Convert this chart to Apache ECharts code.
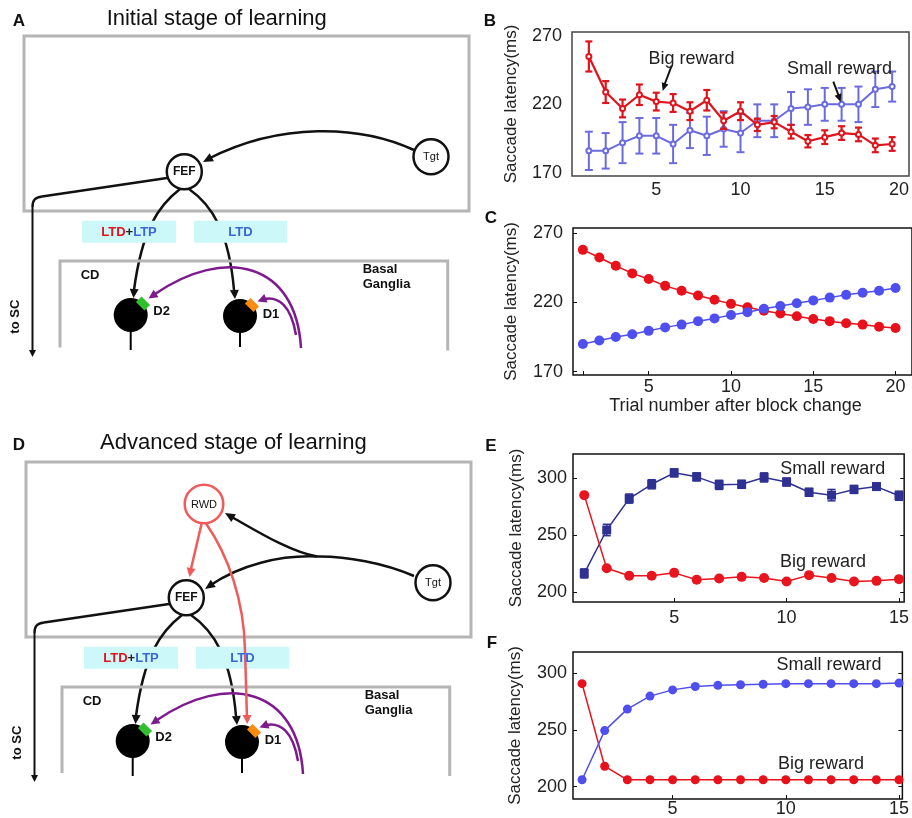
<!DOCTYPE html>
<html><head><meta charset="utf-8">
<script src="https://cdn.jsdelivr.net/npm/echarts@6/dist/echarts.min.js"></script>
<style>html,body{margin:0;padding:0;background:#fff}#c{width:912px;height:818px}</style>
</head><body><div id="c"></div>
<script>
// ---------------- data ----------------
const trialsB = [1,2,3,4,5,6,7,8,9,10,11,12,13,14,15,16,17,18,19];
const bigB = [255,229,217,227,222,221,215,223,208,215,205,207,200,193,196,199,198,190,191];
const bigBErr = [11,8,6.5,7.5,6.5,6.5,6.5,7.5,6,6.5,4.5,4.5,5,4.5,5,5,5,5,5];
const smallB = [186,186,192,197,197,191,201,197,202,199,208,208,217,218,220,220,220,231,233];
const smallBErr = [14,13,15,13,13,14,13,14,13,14,12,12,12,13,12,12,13,13,11];

const trialsC = [1,2,3,4,5,6,7,8,9,10,11,12,13,14,15,16,17,18,19,20];
const bigC = [258,252.5,246.5,241,237,232,228.5,225,222,219,216.5,214,212,210,208,206.5,205,204,202.5,201.5];
const smallC = [190,192.5,195,197,199.5,202,204,206.5,208.5,211,213,215.5,217.5,219.5,221.5,223.5,225.5,227,228.5,230.5];

const trialsE = [1,2,3,4,5,6,7,8,9,10,11,12,13,14,15];
const smallE = [216.5,254.5,282,294.5,304.5,301,294,294.5,300.5,296.5,287.5,285,290,292.5,284.5];
const smallEErr = [4,5,4,4,3.5,3.5,4,3.5,4,3.5,3.5,5,3.5,3,4];
const bigE = [285,221,214.5,214.5,217,211,212,213.5,212.5,209.5,215,212.5,209.5,210,211.5];
const bigEErr = [2,2,2,2,3,2,2,2,2,2,2,2,2,2,2];

const trialsF = [1,2,3,4,5,6,7,8,9,10,11,12,13,14,15];
const smallF = [206,249.5,268.5,280,285.5,288.5,289.5,290,290.5,291,291,291,291,291,291.5];
const bigF = [291,218,206,206,206,206,206,206,206,206,206,206,206,206,206];

const yTicksBC = [170,220,270];
const yTicksEF = [200,250,300];
const xTicks20 = [5,10,15,20];
const xTicks15 = [5,10,15];
const yName = 'Saccade latency(ms)';
const xNameC = 'Trial number after block change';

// ---------------- helpers ----------------
const FF = '"Liberation Sans", Arial, sans-serif';
const zip = (xs, ys) => xs.map((x, i) => [x, ys[i]]);
const zip3 = (xs, ys, es) => xs.map((x, i) => [x, ys[i], es[i]]);

function errRender(color, cap, lw) {
  return function (params, api) {
    const x = api.value(0), y = api.value(1), e = api.value(2);
    const t = api.coord([x, y + e]), b = api.coord([x, y - e]);
    const st = { stroke: color, lineWidth: lw };
    return { type: 'group', children: [
      { type: 'line', shape: { x1: t[0], y1: t[1], x2: b[0], y2: b[1] }, style: st },
      { type: 'line', shape: { x1: t[0] - cap, y1: t[1], x2: t[0] + cap, y2: t[1] }, style: st },
      { type: 'line', shape: { x1: b[0] - cap, y1: b[1], x2: b[0] + cap, y2: b[1] }, style: st }
    ]};
  };
}

function yAx(gi, min, max, ticks, margin, gap, tickShow) {
  return { type: 'value', gridIndex: gi, min: min, max: max,
    name: yName, nameLocation: 'middle', nameGap: gap, nameRotate: 90,
    nameTextStyle: { fontSize: 17, color: '#222', fontFamily: FF },
    axisLine: { show: false }, splitLine: { show: false },
    axisTick: { show: tickShow, inside: true, length: 4, customValues: ticks, lineStyle: { color: '#111' } },
    axisLabel: { customValues: ticks, fontSize: 18, color: '#222', margin: margin, fontFamily: FF } };
}
function yRight(gi, min, max, ticks) {
  return { type: 'value', gridIndex: gi, min: min, max: max, position: 'right',
    axisLine: { show: false }, splitLine: { show: false }, axisLabel: { show: false },
    axisTick: { show: true, inside: true, length: 4, customValues: ticks, lineStyle: { color: '#111' } } };
}
function xAx(gi, min, max, ticks, margin, tickShow, tickVals, extra) {
  return Object.assign({ type: 'value', gridIndex: gi, min: min, max: max,
    axisLine: { show: false }, splitLine: { show: false },
    axisTick: { show: tickShow, inside: true, length: 4, customValues: tickVals || ticks, lineStyle: { color: '#111' } },
    axisLabel: { customValues: ticks, fontSize: 18, color: '#222', margin: margin, fontFamily: FF } }, extra || {});
}

// ---------------- diagram graphics ----------------
const G = [];
const BLK = '#111', GRAY = '#b5b5b5', PURP = '#7d1a8e', RWDRED = '#f05a5a', CYAN = '#cdf8fa';
function ln(x1, y1, x2, y2, c, w, z) { G.push({ type: 'line', z: z || 1, shape: { x1, y1, x2, y2 }, style: { stroke: c, lineWidth: w } }); }
function bz(p0, c1, c2, p1, c, w, z) { G.push({ type: 'bezierCurve', z: z || 1, shape: { x1: p0[0], y1: p0[1], cpx1: c1[0], cpy1: c1[1], cpx2: c2[0], cpy2: c2[1], x2: p1[0], y2: p1[1] }, style: { stroke: c, lineWidth: w, fill: 'none' } }); }
function hd(tip, from, c, L, W, z) {
  const a = Math.atan2(tip[1] - from[1], tip[0] - from[0]);
  const bx = tip[0] - L * Math.cos(a), by = tip[1] - L * Math.sin(a);
  const px = -Math.sin(a) * W, py = Math.cos(a) * W;
  G.push({ type: 'polygon', z: z || 5, shape: { points: [[tip[0], tip[1]], [bx + px, by + py], [bx - px, by - py]] }, style: { fill: c } });
}
function ci(cx, cy, r, stroke, fill, w, z) { G.push({ type: 'circle', z: z || 3, shape: { cx, cy, r }, style: { stroke: stroke, fill: fill, lineWidth: w } }); }
function tx(x, y, t, size, weight, color, align, rot, z) {
  G.push({ type: 'text', z: z || 6, x: x, y: y, rotation: rot || 0,
    style: { text: t, fontSize: size, fontWeight: weight || 'normal', fontFamily: FF, fill: color || '#111', align: align || 'center', verticalAlign: 'middle' } });
}
function rc(x, y, w, h, stroke, fill, lw, z) { G.push({ type: 'rect', z: z || 2, shape: { x, y, width: w, height: h }, style: { stroke: stroke, fill: fill, lineWidth: lw } }); }
function receptor(cx, cy, color) {
  G.push({ type: 'rect', z: 4, x: cx, y: cy, rotation: -Math.PI / 4, shape: { x: -6, y: -4, width: 12, height: 8 }, style: { fill: color } });
}

function circuit(dx, dy, vbot) {
  const P = (x, y) => [x + dx, y + dy];
  rc(24 + dx, 36 + dy, 445, 175, GRAY, 'none', 3, 1);
  // to SC
  ln(167 + dx, 178 + dy, 42 + dx, 196.5 + dy, BLK, 2.5);
  bz(P(42, 196.5), P(35, 197.5), P(32.5, 200), P(32.5, 207), BLK, 2.5);
  ln(32.5 + dx, 207 + dy, 32.5 + dx, vbot, BLK, 2);
  hd([32.5 + dx, vbot + 6], [32.5 + dx, vbot - 4], BLK, 7, 3.5);
  tx(15.7 + dx, 316.7 + dy, 'to SC', 13, 'bold', BLK, 'center', Math.PI / 2);
  // branches
  bz(P(180, 189), P(158, 206), P(142, 230), P(134, 290), BLK, 2.5);
  hd(P(133.5, 298), P(134.5, 285), BLK, 9, 4.5);
  bz(P(189, 189), P(212, 205), P(229, 232), P(234, 290), BLK, 2.5);
  hd(P(235, 299), P(234, 285), BLK, 9, 4.5);
  // cyan boxes
  rc(82 + dx, 220.7 + dy, 94, 22, 'none', CYAN, 0, 2);
  rc(194 + dx, 220.7 + dy, 93, 22, 'none', CYAN, 0, 2);
  G.push({ type: 'text', z: 6, x: 129 + dx, y: 232.5 + dy, style: { text: '{r|LTD}{k|+}{b|LTP}', align: 'center', verticalAlign: 'middle', fontFamily: FF, fontSize: 13, fontWeight: 'bold',
    rich: { r: { fill: '#e4121b', fontSize: 13, fontWeight: 'bold', fontFamily: FF }, k: { fill: '#222', fontSize: 13, fontWeight: 'bold', fontFamily: FF }, b: { fill: '#3a66d8', fontSize: 13, fontWeight: 'bold', fontFamily: FF } } } });
  tx(240.5 + dx, 232.5 + dy, 'LTD', 13, 'bold', '#3a66d8');
  // basal ganglia box
  G.push({ type: 'polyline', z: 1, shape: { points: [P(60, 347 + (vbot - 350 - dy) * 0.6), P(60, 261), P(447.7, 261), P(447.7, 350 + (vbot - 350 - dy) * 0.6)] }, style: { stroke: GRAY, lineWidth: 3, fill: 'none' } });
  tx(80.7 + dx, 275 + dy, 'CD', 13, 'bold', BLK, 'left');
  tx(362.7 + dx, 269.3 + dy, 'Basal', 13, 'bold', BLK, 'left');
  tx(362.7 + dx, 284.5 + dy, 'Ganglia', 13, 'bold', BLK, 'left');
  // neurons
  ci(130.7 + dx, 315 + dy, 17, 'none', '#000', 0, 3);
  ln(130.7 + dx, 328 + dy, 130.7 + dx, 350 + dy, '#000', 2);
  ci(240 + dx, 316 + dy, 17, 'none', '#000', 0, 3);
  ln(240 + dx, 328 + dy, 240 + dx, 347 + dy, '#000', 2);
  receptor(143 + dx, 303.5 + dy, '#2fbf2f');
  receptor(252 + dx, 305 + dy, '#ff8a10');
  tx(153.3 + dx, 311 + dy, 'D2', 13, 'bold', BLK, 'left');
  tx(262.7 + dx, 314.5 + dy, 'D1', 13, 'bold', BLK, 'left');
  // dopamine (purple)
  bz(P(301, 348), P(296, 262), P(225, 246), P(155, 294), PURP, 2.5);
  hd(P(148.5, 298.5), P(160, 291), PURP, 9, 4.5);
  bz(P(296, 335), P(291, 305), P(278, 296), P(264, 299), PURP, 2.5);
  hd(P(257.5, 301.5), P(268, 297.5), PURP, 9, 4.5);
  // FEF / Tgt nodes
  ci(184.3 + dx, 171.7 + dy, 17.5, BLK, '#fff', 2.5, 3);
  tx(184.3 + dx, 172 + dy, 'FEF', 12, 'bold', BLK);
  ci(431 + dx, 156.7 + dy, 17.5, BLK, '#fff', 2.5, 3);
  tx(431 + dx, 157 + dy, 'Tgt', 11, 'normal', BLK);
}

// A
tx(19, 21, 'A', 17, 'bold', '#111');
tx(216.7, 18.5, 'Initial stage of learning', 22, 'normal', '#111');
circuit(0, 0, 351);
bz([414, 150], [360, 125], [280, 122], [208, 159], BLK, 2.5);
hd([203, 162], [215, 155.5], BLK, 10, 4.5);

// D
tx(19, 445, 'D', 17, 'bold', '#111');
tx(233.3, 443, 'Advanced stage of learning', 22, 'normal', '#111');
circuit(2, 426, 776);
bz([414, 576], [385, 563], [345, 556], [317, 556.5], BLK, 2.5);
bz([317, 556.5], [280, 555], [240, 565], [210, 585.5], BLK, 2.5);
hd([205, 589], [216, 581.5], BLK, 10, 4.5);
bz([317, 556.5], [290, 552], [255, 530], [230, 516], BLK, 2.5);
hd([225, 513], [236, 519.5], BLK, 10, 4.5);
ci(204, 504, 19.3, RWDRED, '#fff', 2.5, 3);
tx(204, 504.5, 'RWD', 11, 'normal', BLK);
ln(201.5, 524, 190.5, 571, RWDRED, 2.5, 5);
hd([189.5, 577], [191.5, 566], RWDRED, 9, 4.5, 6);
bz([206, 523.5], [228, 555], [244, 600], [245, 650], RWDRED, 2.5, 5);
ln(245, 650, 247, 718, RWDRED, 2.5, 5);
hd([247.3, 724], [247, 712], RWDRED, 9, 4.5, 6);

// chart panel labels & annotations
tx(490, 21, 'B', 17, 'bold', '#111');
tx(491, 218, 'C', 17, 'bold', '#111');
tx(491, 446.5, 'E', 17, 'bold', '#111');
tx(492, 643, 'F', 17, 'bold', '#111');
tx(691.5, 59, 'Big reward', 18, 'normal', '#222');
ln(671.7, 65.5, 664, 86, '#111', 2, 5);
hd([662.7, 91], [665.5, 82], '#111', 8, 3.5);
tx(839.5, 69.5, 'Small reward', 18, 'normal', '#222');
ln(833.3, 81.7, 839.2, 97, '#111', 2, 5);
hd([840.7, 102], [837.5, 93], '#111', 8, 3.5);
tx(832.8, 469.5, 'Small reward', 18, 'normal', '#222');
tx(823, 562, 'Big reward', 18, 'normal', '#222');
tx(829, 665, 'Small reward', 18, 'normal', '#222');
tx(821, 764, 'Big reward', 18, 'normal', '#222');

// ---------------- chart ----------------
const RED_B = '#e0141c', BLUE_B = '#6b6be0';
const RED_C = '#e8101a', BLUE_C = '#4f4ff0';
const RED_E = '#e8141e', BLUE_E = '#2e3192';

const option = {
  animation: false,
  backgroundColor: '#fff',
  textStyle: { fontFamily: FF },
  grid: [
    { left: 572, right: 2, top: 32, height: 144, show: true, borderColor: '#444', borderWidth: 1.5, backgroundColor: 'transparent' },
    { left: 573, right: -7, top: 228, height: 147, show: true, borderColor: '#111', borderWidth: 1.5, backgroundColor: 'transparent' },
    { left: 573, right: 6, top: 454, height: 148, show: true, borderColor: '#111', borderWidth: 1.5, backgroundColor: 'transparent' },
    { left: 573, right: 6, top: 652, height: 148, show: true, borderColor: '#111', borderWidth: 1.5, backgroundColor: 'transparent' }
  ],
  xAxis: [
    xAx(0, 0, 20, xTicks20, 5, false, null, { axisLabel: { customValues: xTicks20, fontSize: 18, color: '#222', margin: 5, fontFamily: FF, alignMaxLabel: 'right' } }),
    xAx(1, 0.4, 21, xTicks20, 3, true, [1, 5, 10, 15, 20], { name: xNameC, nameLocation: 'middle', nameGap: 19, nameTextStyle: { fontSize: 18, color: '#222', fontFamily: FF, padding: [0, 14, 0, 0] } }),
    xAx(2, 0.5, 15.23, xTicks15, 7, true),
    xAx(3, 0.6, 15.15, xTicks15, 1, true)
  ],
  yAxis: [
    yAx(0, 167.6, 272.9, yTicksBC, 10, 52, false),
    yAx(1, 167.6, 273.8, yTicksBC, 10, 53, true),
    yAx(2, 191.5, 321, yTicksEF, 6, 48, true),
    yAx(3, 189, 319, yTicksEF, 6, 49, true),
    yRight(2, 191.5, 321, yTicksEF),
    yRight(3, 189, 319, yTicksEF)
  ],
  series: [
    // B
    { type: 'custom', xAxisIndex: 0, yAxisIndex: 0, renderItem: errRender(BLUE_B, 4, 2), data: zip3(trialsB, smallB, smallBErr), z: 2 },
    { type: 'line', xAxisIndex: 0, yAxisIndex: 0, data: zip(trialsB, smallB), symbol: 'emptyCircle', symbolSize: 5, lineStyle: { color: BLUE_B, width: 2 }, itemStyle: { color: BLUE_B, borderWidth: 1.5 }, z: 3 },
    { type: 'custom', xAxisIndex: 0, yAxisIndex: 0, renderItem: errRender(RED_B, 3.5, 2.2), data: zip3(trialsB, bigB, bigBErr), z: 4 },
    { type: 'line', xAxisIndex: 0, yAxisIndex: 0, data: zip(trialsB, bigB), symbol: 'emptyCircle', symbolSize: 5, lineStyle: { color: RED_B, width: 2.2 }, itemStyle: { color: RED_B, borderWidth: 1.5 }, z: 5 },
    // C
    { type: 'line', xAxisIndex: 1, yAxisIndex: 1, data: zip(trialsC, bigC), symbol: 'circle', symbolSize: 10, lineStyle: { color: RED_C, width: 1.5 }, itemStyle: { color: RED_C }, z: 3 },
    { type: 'line', xAxisIndex: 1, yAxisIndex: 1, data: zip(trialsC, smallC), symbol: 'circle', symbolSize: 10, lineStyle: { color: BLUE_C, width: 1.5 }, itemStyle: { color: BLUE_C }, z: 4 },
    // E
    { type: 'custom', xAxisIndex: 2, yAxisIndex: 2, renderItem: errRender(BLUE_E, 4, 1.5), data: zip3(trialsE, smallE, smallEErr), z: 2 },
    { type: 'line', xAxisIndex: 2, yAxisIndex: 2, data: zip(trialsE, smallE), symbol: 'rect', symbolSize: 9, lineStyle: { color: BLUE_E, width: 1.5 }, itemStyle: { color: BLUE_E }, z: 3 },
    { type: 'custom', xAxisIndex: 2, yAxisIndex: 2, renderItem: errRender(RED_E, 3, 1.5), data: zip3(trialsE, bigE, bigEErr), z: 4 },
    { type: 'line', xAxisIndex: 2, yAxisIndex: 2, data: zip(trialsE, bigE), symbol: 'circle', symbolSize: 10, lineStyle: { color: RED_E, width: 1.5 }, itemStyle: { color: RED_E }, z: 5 },
    // F
    { type: 'line', xAxisIndex: 3, yAxisIndex: 3, data: zip(trialsF, bigF), symbol: 'circle', symbolSize: 9, lineStyle: { color: RED_C, width: 1.5 }, itemStyle: { color: RED_C }, z: 3 },
    { type: 'line', xAxisIndex: 3, yAxisIndex: 3, data: zip(trialsF, smallF), symbol: 'circle', symbolSize: 9, lineStyle: { color: BLUE_C, width: 1.5 }, itemStyle: { color: BLUE_C }, z: 4 }
  ],
  graphic: { elements: G }
};

const chart = echarts.init(document.getElementById('c'), null, { renderer: 'canvas' });
chart.setOption(option);
</script>
</body></html>
